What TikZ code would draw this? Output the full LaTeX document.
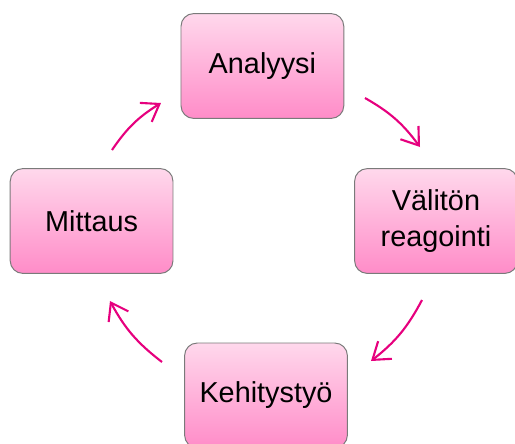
\documentclass[tikz,border=0pt]{standalone}
\usepackage{fontspec}
\setmainfont{Liberation Sans}
\usepackage{xcolor}
\definecolor{boxtop}{HTML}{FFD8EC}
\definecolor{boxbottom}{HTML}{FF8CC8}
\definecolor{boxedge}{HTML}{7A7A7A}
\definecolor{cycle}{HTML}{E6007E}
\usetikzlibrary{arrows.meta, positioning, calc}

\begin{document}
\begin{tikzpicture}[every node/.style={font=\fontsize{20.5}{25.5}\selectfont}]
\tikzstyle{phase}=[rectangle, rounded corners=9pt, draw=boxedge, line width=0.7pt,
  top color=boxtop, bottom color=boxbottom,
  minimum width=4.07cm, minimum height=2.62cm, align=center]
\tikzstyle{turn}=[draw=cycle, line width=1.5pt,
  -{Straight Barb[length=4mm,width=5.6mm,line width=1.5pt]}]
% frame of the picture
\clip (-6.65,5.525) rectangle (6.225,-5.55);
\node[phase] (analyysi) at (-0.09,3.875) {Analyysi};
\node[phase] (reagointi) at (4.25,0) {Välitön\\reagointi};
\node[phase] (kehitys) at (0,-4.36) {Kehitystyö};
\node[phase] (mittaus) at (-4.36,0) {Mittaus};
% arrow ends
\coordinate (a1) at (2.475,3.075);  \coordinate (b1) at (3.85,1.85);
\coordinate (a2) at (3.9,-1.975);   \coordinate (b2) at (2.625,-3.5);
\coordinate (a3) at (-2.6,-3.525);  \coordinate (b3) at (-3.9,-2.0);
\coordinate (a4) at (-3.85,1.775);  \coordinate (b4) at (-2.625,2.95);
\draw[turn] (a1) to[bend left=12] (b1);
\draw[turn] (a2) to[bend left=12] (b2);
\draw[turn] (a3) to[bend left=12] (b3);
\draw[turn] (a4) to[bend left=12] (b4);
\end{tikzpicture}
\end{document}
